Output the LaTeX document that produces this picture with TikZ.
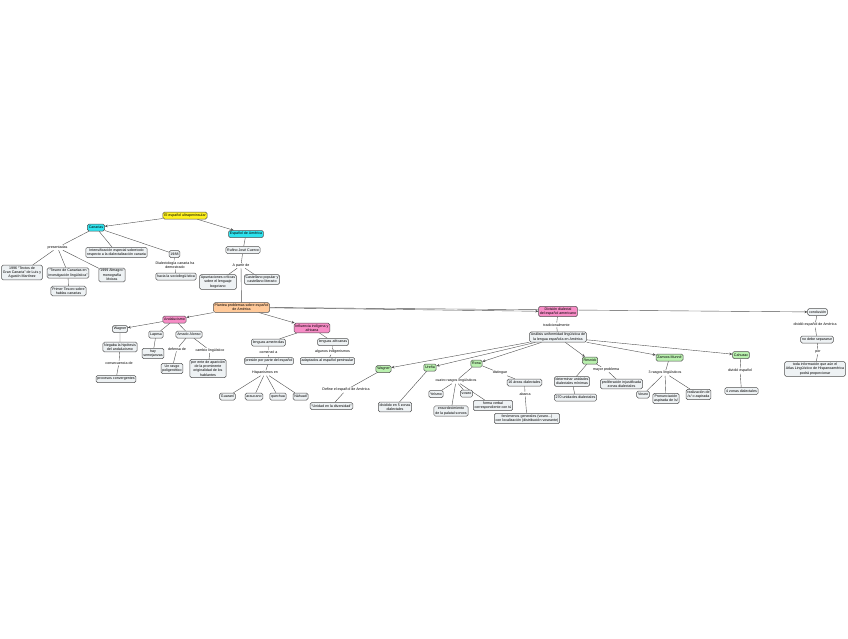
\documentclass[tikz,border=0pt]{standalone}
\usepackage{fontspec}
\setmainfont{Liberation Sans}
\usetikzlibrary{arrows.meta, backgrounds}
\definecolor{cyellow}{HTML}{FFF21E}
\definecolor{ccyan}{HTML}{2EE3EE}
\definecolor{corange}{HTML}{FFC999}
\definecolor{cpink}{HTML}{F78CC6}
\definecolor{cgreen}{HTML}{B9F0AE}
\definecolor{cpale}{HTML}{EEF2F4}
\definecolor{cline}{HTML}{505050}
\tikzset{
  every picture/.style={line width=0.5pt},
  box/.style={draw=cline, fill=#1, rounded corners=1.5pt, align=center, inner sep=1.3pt, minimum height=7pt, font=\fontsize{3.6}{4.3}\selectfont},
  box/.default=cpale,
  arrow/.style={-{Stealth[length=3pt, width=2.6pt]}, draw=cline},
  link/.style={draw=cline},
  note/.style={font=\fontsize{3.6}{4.3}\selectfont, align=center, inner sep=0.8pt},
}
\begin{document}
\begin{tikzpicture}[x=1pt, y=-1pt]
  \useasboundingbox (0,0) rectangle (848,638);
  % top
  \node[box=cyellow] (root) at (185,215.5) {El español ultrapeninsular};
  \node[box=ccyan] (canarias) at (96,227.5) {Canarias};
  \node[box=ccyan] (america) at (246,234) {Español de América};
  % Canarias
  \node[note] (presentadas) at (57.5,247.5) {presentadas};
  \node[box] (textos) at (22,272.5) {1996 ``Textos de\\Gran Canaria'' de Luis y\\Agustín Martínez};
  \node[box] (tesoro) at (68,273) {``Tesoro de Canarias en\\investigación lingüística''};
  \node[box] (almagro) at (112,275) {1999 Almagro:\\monografía\\léxicas};
  \node[box] (primer) at (68.5,291) {Primer Tesoro sobre\\hablas canarias};
  \node[box] (intens) at (116.5,252.5) {Intensificación especial sobretodo\\respecto a la dialectalización canaria};
  \node[box] (y1988) at (174.5,254) {1988};
  \node[note] (dialecto) at (175,265) {Dialectología canaria ha\\demostrado};
  \node[box] (socio) at (176,276.5) {hacia la sociolingüística};
  % Espanol de America
  \node[box] (cuervo) at (243,250) {Rufino José Cuervo};
  \node[note] (apartir) at (241,265.5) {A partir de};
  \node[box] (apunt) at (218,282) {Apuntaciones críticas\\sobre el lenguaje\\bogotano};
  \node[box] (castell) at (262,279.5) {Castellano popular y\\castellano literario};
  \node[box=corange] (plantea) at (241.5,307.5) {Plantea problemas sobre español\\de América};
  % Andalucismo
  \node[box=cpink] (andal) at (174.5,319.5) {Andalucismo};
  \node[box] (wagner) at (120,329) {Wagner};
  \node[box] (lapesa) at (156,334.5) {Lapesa};
  \node[box] (alonso) at (189,334.5) {Amado Alonso};
  \node[box] (negaba) at (120,347) {Negaba la hipótesis\\del andalucismo};
  \node[note] (consec) at (119,363) {consecuencia de};
  \node[box] (procesos) at (116,379) {procesos convergentes};
  \node[box] (semejanzas) at (153,353.5) {hay\\semejanzas};
  \node[note] (defensa) at (177,349) {defensa de};
  \node[box] (poligen) at (172,368.5) {Un rasgo\\poligenético};
  \node[note] (cambio) at (210,350.5) {cambio lingüístico};
  \node[box] (aparicion) at (208,368.5) {por ente de aparición\\de la prominente\\originalidad de los\\hablantes};
  % Influencia
  \node[box=cpink] (influencia) at (312,328) {Influencia indígena y\\africana};
  \node[box] (amerind) at (268.5,342.5) {lenguas amerindias};
  \node[note] (comenzo) at (268.5,352.5) {comenzó a};
  \node[box] (presion) at (269,361) {presión por parte del español};
  \node[note] (hisp) at (265,373) {Hispanismos en};
  \node[box] (guarani) at (227.5,396.5) {Guaraní};
  \node[box] (araucano) at (254,396.5) {araucano};
  \node[box] (quechua) at (278,396.5) {quechua};
  \node[box] (nahuatl) at (300.5,396.5) {Náhuatl};
  \node[box] (africa) at (333,342) {lenguas africanas};
  \node[note] (indig) at (332.5,352) {algunos indigenismos};
  \node[box] (adapt) at (327.5,361) {adaptados al español peninsular};
  \node[note] (define) at (346,390) {Define el español de América};
  \node[box] (unidad) at (331.5,406) {``Unidad en la diversidad''};
  % Division dialectal
  \node[box=cpink] (division) at (558,311.5) {División dialectal\\del español americano};
  \node[note] (tradic) at (556.5,325) {tradicionalmente};
  \node[box] (analisis) at (558,337) {Análisis uniformidad lingüística de\\la lengua española en América};
  \node[box=cgreen] (wagnerB) at (383.5,369) {Wagner};
  \node[box=cgreen] (urena) at (430,367.5) {Ureña};
  \node[box=cgreen] (rona) at (476.5,363.5) {Rona};
  \node[box=cgreen] (resnick) at (590,360.5) {Resnick};
  \node[box=cgreen] (zamora) at (669.5,357.5) {Zamora Munné};
  \node[box=cgreen] (cahuzac) at (741,355) {Cahuzac};
  \node[box] (cinco) at (395,407) {dividido en 5 zonas\\dialectales};
  \node[note] (cuatro) at (456,381) {cuatro rasgos lingüísticos};
  \node[box] (yeismo) at (436,394) {Yeísmo};
  \node[box] (voseoA) at (466.5,393.5) {voseo};
  \node[box] (ensord) at (451,411) {ensordecimiento\\de la palatal sonora};
  \node[box] (verbal) at (493,405.5) {forma verbal\\correspondiente con tú};
  \node[note] (distingue) at (500,373) {distingue};
  \node[box] (areas) at (524.5,382.5) {16 áreas dialectales};
  \node[note] (abarca) at (525,394) {abarca};
  \node[box] (fenom) at (527,418.5) {fenómenos generales (voseo...)\\con localización (distribución voseante)};
  \node[box] (unidades) at (572,381.5) {determinar unidades\\dialectales mínimas};
  \node[box] (doscientas) at (575.5,397.5) {270 unidades dialectales};
  \node[note] (problema) at (606,369.5) {mayor problema};
  \node[box] (prolif) at (621.5,384) {proliferación injustificada\\zonas dialectales};
  \node[note] (tres) at (665,373) {3 rasgos lingüísticos};
  \node[box] (voseoB) at (643,394.5) {Voseo};
  \node[box] (silbante) at (666,398.5) {Pronunciación\\aspirada de /s/};
  \node[box] (realiz) at (698.5,394.5) {realización de\\/x/ o aspirada};
  \node[note] (dividioB) at (740,371) {dividió español};
  \node[box] (cuatroz) at (741.5,391) {4 zonas dialectales};
  % conclusion
  \node[box] (conclusion) at (817.5,312) {conclusión};
  \node[note] (dividioC) at (815,325) {dividió español de América};
  \node[box] (separarse) at (817,339.5) {no debe separarse};
  \node[note] (por) at (818,352) {por};
  \node[box] (toda) at (815,369) {toda información que aún el\\Atlas Lingüístico de Hispanoamérica\\podrá proporcionar};

  \begin{scope}[on background layer]
    \fill[white] (0,0) rectangle (848,638);
    \draw[arrow] (root) -- (canarias);
    \draw[arrow] (root) -- (america);
    \draw[link] (canarias) -- (presentadas);
    \draw[link] (canarias) -- (intens);
    \draw[link] (canarias) -- (y1988);
    \foreach \n in {textos, tesoro, almagro} \draw[link] (presentadas) -- (\n);
    \draw[link] (tesoro) -- (primer);
    \draw[link] (y1988) -- (dialecto) -- (socio);
    \draw[link] (america) -- (cuervo) -- (apartir);
    \foreach \n in {apunt, castell, plantea} \draw[link] (apartir) -- (\n);
    \draw[arrow] (plantea) -- (andal);
    \draw[arrow] (plantea) -- (influencia);
    \draw[arrow] (plantea) -- (division);
    \draw[arrow] (plantea.east) -- (conclusion);
    \draw[arrow] (andal) -- (wagner);
    \draw[link] (andal) -- (lapesa);
    \draw[link] (andal) -- (alonso);
    \draw[link] (wagner) -- (negaba) -- (consec) -- (procesos);
    \draw[link] (lapesa) -- (semejanzas);
    \draw[link] (alonso) -- (defensa) -- (poligen);
    \draw[link] (alonso) -- (cambio) -- (aparicion);
    \draw[link] (influencia) -- (amerind) -- (comenzo) -- (presion) -- (hisp);
    \foreach \n in {guarani, araucano, quechua, nahuatl} \draw[link] (hisp) -- (\n);
    \draw[link] (influencia) -- (africa) -- (indig) -- (adapt);
    \draw[link] (division) -- (tradic) -- (analisis);
    \foreach \n in {wagnerB, urena, rona, resnick, zamora, cahuzac} \draw[arrow] (analisis) -- (\n);
    \draw[link] (wagnerB) -- (define) -- (unidad);
    \draw[link] (urena) -- (cinco);
    \draw[link] (rona) -- (cuatro);
    \foreach \n in {yeismo, voseoA, ensord, verbal} \draw[link] (cuatro) -- (\n);
    \draw[link] (rona) -- (distingue) -- (areas) -- (abarca) -- (fenom);
    \draw[link] (resnick) -- (unidades) -- (doscientas);
    \draw[link] (resnick) -- (problema) -- (prolif);
    \draw[link] (zamora) -- (tres);
    \foreach \n in {voseoB, silbante, realiz} \draw[link] (tres) -- (\n);
    \draw[link] (cahuzac) -- (dividioB) -- (cuatroz);
    \draw[link] (conclusion) -- (dividioC) -- (separarse) -- (por) -- (toda);
  \end{scope}
\end{tikzpicture}
\end{document}
